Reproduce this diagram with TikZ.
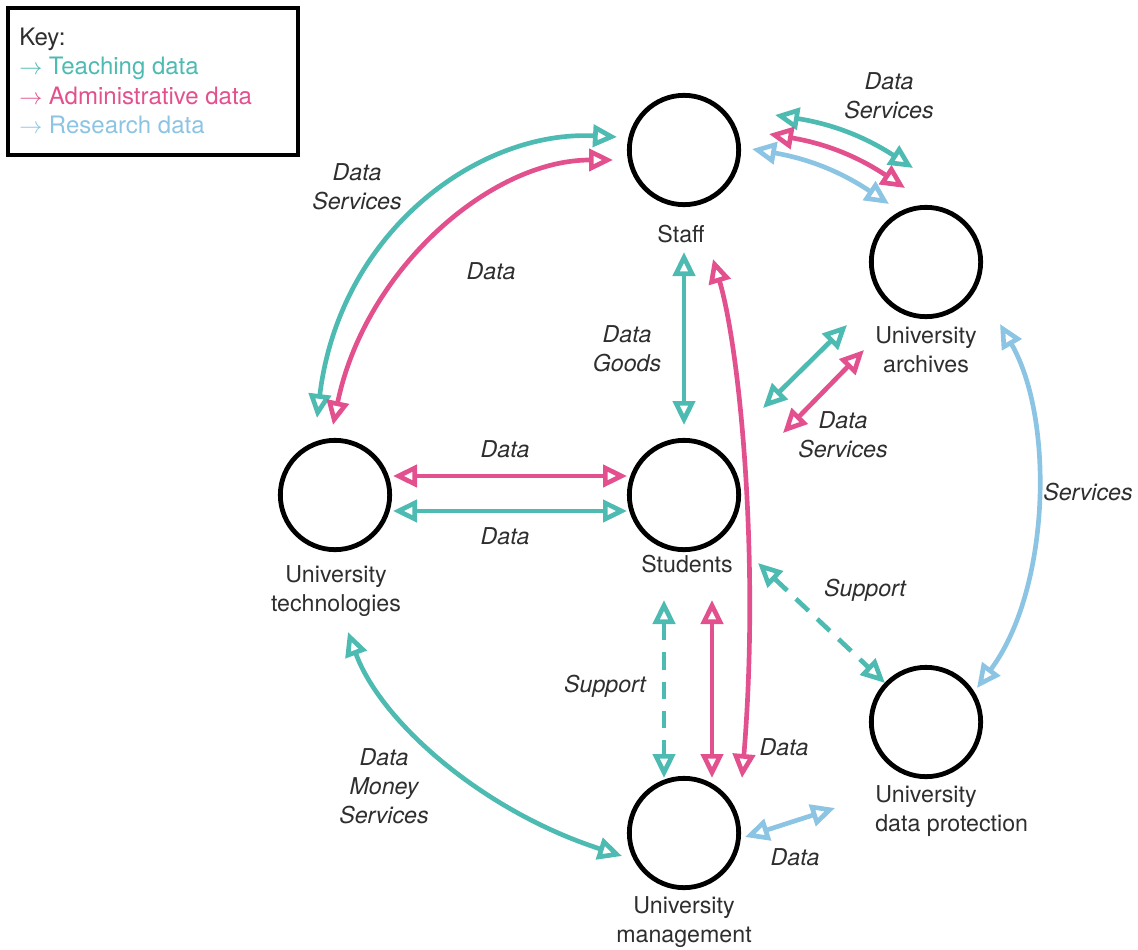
\documentclass[tikz,border=0pt]{standalone}
\usepackage{fontspec}
\setmainfont{TeX Gyre Heros}
\usetikzlibrary{arrows.meta}
\definecolor{tealc}{HTML}{4DBBB1}
\definecolor{pinkc}{HTML}{E2508E}
\definecolor{bluec}{HTML}{8CC4E4}
\definecolor{txt}{HTML}{2E2E2E}
\tikzset{
  circ/.style={circle, draw=black, line width=3.6pt, inner sep=0pt, minimum size=82pt},
  lab/.style={text=txt, align=center, font=\fontsize{17.4}{21.75}\selectfont, inner sep=0pt},
  ilab/.style={lab, font=\fontsize{17.4}{21.75}\selectfont\itshape},
  tip/.tip={Triangle[open, length=18pt, width=16.5pt]},
  conn/.style={line width=3.5pt, tip-tip},
  tconn/.style={conn, tealc},
  pconn/.style={conn, pinkc},
  bconn/.style={conn, bluec},
  dashconn/.style={dash pattern=on 13pt off 9pt}
}
\begin{document}
\begin{tikzpicture}[x=0.75pt, y=-0.75pt]
\useasboundingbox (0,0) rectangle (1138,949);

% key
\node[draw=black, line width=3pt, minimum width=217.5pt, minimum height=110pt, inner sep=0pt] (keybox) at (153,81.5) {};
\node[lab, anchor=west, align=left, font=\fontsize{18}{22.2}\selectfont] (keytext) at (19,81) {%
  Key:\\
  \textcolor{tealc}{$\rightarrow$ Teaching data}\\
  \textcolor{pinkc}{$\rightarrow$ Administrative data}\\
  \textcolor{bluec}{$\rightarrow$ Research data}};

% circles
\node[circ] (staff) at (684,150) {};
\node[circ] (arch)  at (926,262) {};
\node[circ] (tech)  at (335,495) {};
\node[circ] (stud)  at (684,495) {};
\node[circ] (prot)  at (926,722) {};
\node[circ] (mgmt)  at (684,833) {};

% circle labels
\node[lab] (lstaff) at (681,234) {Staff};
\node[lab] (larch)  at (926,350) {University\\archives};
\node[lab] (ltech)  at (336,591) {University\\technologies};
\node[lab] (lstud)  at (687,564) {Students};
\node[lab, anchor=west, align=left] (lprot) at (875,811) {University\\data protection};
\node[lab] (lmgmt)  at (684,922) {University\\management};

% endpoints
\coordinate (a1) at (617,137);  \coordinate (b1) at (317,418);
\coordinate (a2) at (613,160);  \coordinate (b2) at (333,425);
\coordinate (a3) at (775,115);  \coordinate (b3) at (913,168);
\coordinate (a4) at (769,134);  \coordinate (b4) at (905,188);
\coordinate (a5) at (752,149);  \coordinate (b5) at (889,204);
\coordinate (a6) at (684,252);  \coordinate (b6) at (684,425);
\coordinate (a7) at (713,259);  \coordinate (b7) at (742,778);
\coordinate (a8) at (847,325);  \coordinate (b8) at (763,408);
\coordinate (a9) at (864,350);  \coordinate (b9) at (783,433);
\coordinate (a10) at (393,476); \coordinate (b10) at (627,476);
\coordinate (a11) at (393,511); \coordinate (b11) at (627,511);
\coordinate (a12) at (758,563); \coordinate (b12) at (885,683);
\coordinate (a13) at (664,600); \coordinate (b13) at (664,778);
\coordinate (a14) at (712,600); \coordinate (b14) at (712,778);
\coordinate (a15) at (1000,324); \coordinate (b15) at (977,688);
\coordinate (a16) at (348,632); \coordinate (b16) at (622,856);
\coordinate (a17) at (745,837); \coordinate (b17) at (835,808);

% connectors
\draw[tconn] (a1) .. controls (480,130) and (340,230) .. (b1);
\draw[pconn] (a2) .. controls (490,160) and (365,270) .. (b2);
\draw[tconn] (a3) to[bend left=12] (b3);
\draw[pconn] (a4) to[bend left=12] (b4);
\draw[bconn] (a5) to[bend left=12] (b5);
\draw[tconn] (a6) -- (b6);
\draw[pconn] (a7) .. controls (740,350) and (760,560) .. (b7);
\draw[tconn] (a8) -- (b8);
\draw[pconn] (a9) -- (b9);
\draw[pconn] (a10) -- (b10);
\draw[tconn] (a11) -- (b11);
\draw[tconn, dashconn] (a12) -- (b12);
\draw[tconn, dashconn] (a13) -- (b13);
\draw[pconn] (a14) -- (b14);
\draw[bconn] (a15) .. controls (1055,420) and (1050,590) .. (b15);
\draw[tconn] (a16) .. controls (380,720) and (480,810) .. (b16);
\draw[bconn] (a17) -- (b17);

% connector labels
\node[ilab] (t1) at (357,187) {Data\\Services};
\node[ilab] (t2) at (491,271) {Data};
\node[ilab] (t3) at (889,96) {Data\\Services};
\node[ilab] (t4) at (627,349) {Data\\Goods};
\node[ilab] (t5) at (843,435) {Data\\Services};
\node[ilab] (t6) at (505,449) {Data};
\node[ilab] (t7) at (505,536) {Data};
\node[ilab] (t8) at (865,590) {Support};
\node[ilab] (t9) at (605,686) {Support};
\node[ilab] (t10) at (784,747) {Data};
\node[ilab] (t11) at (1088,492) {Services};
\node[ilab] (t12) at (384,786) {Data\\Money\\Services};
\node[ilab] (t13) at (795,857) {Data};
\end{tikzpicture}
\end{document}
